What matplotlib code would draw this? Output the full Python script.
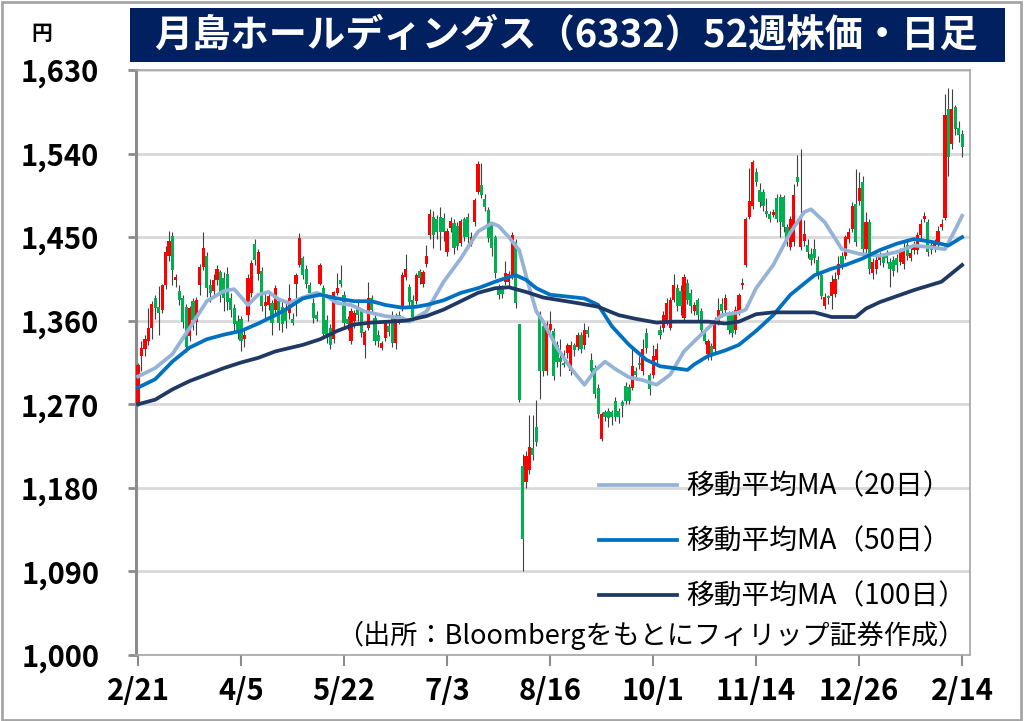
import numpy as np
import matplotlib
matplotlib.use("Agg")
import matplotlib.pyplot as plt
from matplotlib.patches import Rectangle

plt.rcParams['font.family'] = ['Noto Sans CJK JP', 'DejaVu Sans']

# ---- daily candles: open, close, high, low ----
candles = [
    # 2/21 -
    (1271, 1312, 1314, 1268), (1322, 1331, 1338, 1306), (1329, 1340, 1345, 1322), (1338, 1352, 1374, 1334),
    (1352, 1378, 1381, 1340), (1384, 1374, 1388, 1362), (1375, 1368, 1397, 1345), (1372, 1398, 1400, 1368),
    (1398, 1434, 1440, 1394), (1430, 1446, 1457, 1424), (1451, 1415, 1456, 1398), (1404, 1407, 1410, 1396),
    (1392, 1382, 1398, 1377), (1384, 1359, 1388, 1352), (1375, 1332, 1378, 1326), (1343, 1374, 1376, 1338),
    (1381, 1361, 1384, 1350), (1359, 1382, 1385, 1345), (1398, 1418, 1421, 1388), (1418, 1438, 1456, 1415),
    (1430, 1395, 1434, 1385), (1398, 1390, 1405, 1380), (1392, 1404, 1410, 1386), (1404, 1416, 1420, 1398),
    (1412, 1388, 1415, 1380), (1406, 1384, 1412, 1370), (1410, 1380, 1418, 1372), (1384, 1372, 1390, 1364),
    (1374, 1356, 1378, 1348), (1360, 1350, 1366, 1340),
    # 4/5 -
    (1362, 1338, 1365, 1327), (1340, 1345, 1352, 1332),
    (1366, 1406, 1410, 1360), (1390, 1422, 1425, 1385), (1443, 1425, 1448, 1420), (1410, 1434, 1437, 1404),
    (1414, 1376, 1418, 1370), (1376, 1380, 1390, 1362), (1377, 1387, 1392, 1372), (1379, 1357, 1382, 1345),
    (1372, 1395, 1398, 1366), (1381, 1358, 1384, 1350), (1375, 1356, 1382, 1348), (1374, 1360, 1380, 1352),
    (1368, 1384, 1400, 1362), (1362, 1358, 1368, 1355), (1400, 1409, 1411, 1365), (1420, 1449, 1454, 1418),
    (1427, 1409, 1430, 1405), (1416, 1399, 1420, 1395), (1398, 1390, 1402, 1385), (1379, 1363, 1384, 1358),
    (1366, 1362, 1370, 1360), (1400, 1420, 1422, 1398), (1395, 1346, 1398, 1342), (1361, 1341, 1366, 1336),
    (1352, 1334, 1356, 1330), (1340, 1391, 1392, 1336), (1390, 1395, 1411, 1388), (1404, 1399, 1420, 1396),
    # 5/22 -
    (1388, 1357, 1392, 1352), (1362, 1356, 1365, 1350), (1338, 1370, 1374, 1335), (1360, 1368, 1372, 1352),
    (1375, 1366, 1380, 1360), (1370, 1347, 1374, 1342), (1334, 1348, 1350, 1320), (1352, 1384, 1402, 1350),
    (1384, 1372, 1388, 1368), (1363, 1338, 1366, 1334), (1345, 1338, 1350, 1332), (1331, 1336, 1338, 1328),
    (1341, 1357, 1360, 1338), (1354, 1348, 1360, 1344), (1366, 1336, 1370, 1332), (1336, 1365, 1368, 1330),
    (1366, 1362, 1370, 1356), (1374, 1409, 1412, 1370), (1407, 1416, 1432, 1404), (1396, 1380, 1400, 1376),
    (1382, 1364, 1388, 1360), (1381, 1409, 1411, 1378), (1413, 1406, 1416, 1400), (1400, 1412, 1415, 1396),
    (1421, 1430, 1442, 1418), (1452, 1475, 1480, 1448), (1472, 1452, 1478, 1438), (1470, 1456, 1474, 1448),
    (1472, 1456, 1482, 1436), (1471, 1455, 1476, 1446),
    # 7/3 -
    (1434, 1457, 1460, 1430), (1460, 1467, 1472, 1456),
    (1465, 1438, 1470, 1432), (1462, 1440, 1466, 1436), (1444, 1467, 1470, 1440), (1470, 1450, 1472, 1446),
    (1472, 1450, 1476, 1444), (1443, 1450, 1455, 1440), (1466, 1490, 1492, 1462), (1499, 1529, 1532, 1496),
    (1506, 1495, 1530, 1492), (1491, 1482, 1496, 1478), (1479, 1449, 1482, 1445), (1463, 1438, 1466, 1430),
    (1450, 1411, 1452, 1406), (1395, 1388, 1400, 1383), (1394, 1389, 1398, 1384), (1402, 1411, 1424, 1398),
    (1402, 1410, 1414, 1396), (1409, 1452, 1455, 1405), (1445, 1379, 1448, 1374), (1356, 1275, 1356, 1272),
    (1204, 1125, 1216, 1090), (1186, 1214, 1220, 1180), (1199, 1224, 1258, 1195), (1223, 1215, 1258, 1210),
    (1245, 1229, 1275, 1225), (1365, 1306, 1370, 1276), (1354, 1306, 1360, 1300), (1306, 1356, 1360, 1302),
    # 8/16 -
    (1350, 1356, 1370, 1346), (1349, 1300, 1352, 1296), (1334, 1315, 1338, 1310), (1320, 1316, 1340, 1300),
    (1315, 1312, 1328, 1310), (1325, 1334, 1336, 1320), (1306, 1334, 1338, 1302), (1334, 1328, 1336, 1322),
    (1332, 1345, 1348, 1328), (1345, 1329, 1348, 1325), (1334, 1350, 1358, 1330), (1350, 1346, 1354, 1342),
    (1318, 1306, 1325, 1300), (1309, 1281, 1312, 1277), (1288, 1259, 1292, 1255), (1233, 1259, 1262, 1230),
    (1262, 1256, 1264, 1252), (1263, 1255, 1266, 1245), (1262, 1256, 1264, 1248), (1274, 1256, 1278, 1252),
    (1263, 1256, 1266, 1250), (1272, 1268, 1275, 1256), (1290, 1273, 1294, 1270), (1289, 1274, 1292, 1270),
    (1288, 1311, 1330, 1285), (1306, 1302, 1310, 1298), (1315, 1312, 1322, 1308), (1306, 1330, 1340, 1302),
    (1347, 1331, 1352, 1325), (1302, 1286, 1304, 1280),
    # 10/1 -
    (1302, 1322, 1334, 1298), (1318, 1330, 1336, 1314),
    (1350, 1345, 1355, 1340), (1352, 1366, 1370, 1348), (1359, 1379, 1384, 1355), (1352, 1382, 1386, 1350),
    (1382, 1399, 1410, 1380), (1395, 1376, 1400, 1370), (1392, 1376, 1398, 1366), (1363, 1407, 1410, 1360),
    (1401, 1382, 1405, 1378), (1390, 1376, 1394, 1368), (1370, 1377, 1380, 1366), (1382, 1366, 1384, 1360),
    (1370, 1350, 1374, 1345), (1347, 1338, 1350, 1335), (1324, 1338, 1340, 1318), (1333, 1324, 1336, 1318),
    (1329, 1361, 1364, 1326), (1360, 1372, 1384, 1355), (1378, 1370, 1384, 1364), (1372, 1384, 1389, 1368),
    (1366, 1350, 1370, 1346), (1366, 1347, 1370, 1342), (1350, 1372, 1376, 1346), (1370, 1388, 1390, 1366),
    (1398, 1401, 1406, 1394), (1420, 1470, 1472, 1418),
    # 11/14 -
    (1472, 1489, 1524, 1470), (1483, 1531, 1533, 1480),
    (1520, 1509, 1524, 1505), (1501, 1488, 1508, 1482), (1499, 1483, 1502, 1478), (1478, 1475, 1492, 1472),
    (1475, 1470, 1478, 1466), (1474, 1477, 1480, 1472), (1492, 1470, 1496, 1466), (1493, 1466, 1496, 1450),
    (1493, 1461, 1495, 1455), (1461, 1448, 1464, 1440), (1439, 1470, 1473, 1436), (1445, 1495, 1507, 1440),
    (1515, 1509, 1538, 1505), (1439, 1471, 1545, 1436), (1446, 1453, 1468, 1440), (1441, 1434, 1448, 1428),
    (1432, 1425, 1438, 1420), (1437, 1427, 1448, 1422), (1425, 1409, 1430, 1405), (1409, 1387, 1412, 1383),
    (1376, 1385, 1390, 1373), (1386, 1384, 1388, 1378), (1387, 1402, 1409, 1373), (1389, 1405, 1412, 1385),
    (1409, 1421, 1430, 1405), (1430, 1421, 1434, 1416), (1430, 1450, 1452, 1426), (1448, 1455, 1460, 1444),
    # 12/26 -
    (1459, 1484, 1488, 1455), (1486, 1445, 1523, 1440),
    (1489, 1503, 1520, 1485), (1509, 1437, 1516, 1430), (1437, 1466, 1477, 1432), (1466, 1416, 1470, 1410),
    (1411, 1423, 1428, 1405), (1416, 1425, 1432, 1410), (1425, 1430, 1434, 1420), (1430, 1422, 1433, 1418),
    (1432, 1427, 1436, 1422), (1423, 1416, 1428, 1396), (1425, 1414, 1430, 1408), (1428, 1420, 1432, 1412),
    (1423, 1434, 1438, 1420), (1421, 1437, 1445, 1416), (1441, 1430, 1446, 1425), (1428, 1433, 1438, 1424),
    (1436, 1441, 1446, 1432), (1436, 1452, 1456, 1432), (1452, 1464, 1470, 1448), (1470, 1473, 1477, 1466),
    (1466, 1434, 1470, 1430), (1441, 1436, 1446, 1432), (1438, 1444, 1448, 1434), (1441, 1457, 1462, 1437),
    (1461, 1464, 1470, 1458), (1471, 1581, 1604, 1468), (1588, 1536, 1611, 1516), (1550, 1588, 1610, 1545),
    (1590, 1566, 1592, 1560), (1568, 1560, 1575, 1552), (1561, 1547, 1565, 1536),
]
opens = np.array([c[0] for c in candles], dtype=float)
closes = np.array([c[1] for c in candles], dtype=float)
highs = np.array([c[2] for c in candles], dtype=float)
lows = np.array([c[3] for c in candles], dtype=float)

# ---- moving averages (day index, value) ----
ma20_idx = [0, 5, 10, 15, 20, 25, 28, 32, 35, 38, 41, 44, 48, 52, 55, 58, 62, 66, 72, 77, 79, 84, 89, 94,
            99, 103, 105, 108, 111, 114, 116, 118, 122, 126, 130, 133, 136, 139, 143, 147, 151, 155, 159,
            164, 170, 175, 177, 180, 185, 190, 194, 196, 200, 205, 210, 216, 221, 226, 231, 235, 238, 240]
ma20_val = [1300, 1309, 1324, 1352, 1381, 1392, 1394, 1377, 1388, 1391, 1383, 1379, 1385, 1390, 1386, 1379,
            1377, 1370, 1365, 1363, 1359, 1370, 1402, 1427, 1456, 1465, 1462, 1450, 1436, 1395, 1370, 1359,
            1331, 1309, 1291, 1306, 1316, 1308, 1299, 1296, 1291, 1302, 1327, 1345, 1366, 1369, 1372, 1395,
            1420, 1455, 1477, 1480, 1466, 1437, 1432, 1430, 1434, 1441, 1439, 1437, 1458, 1473]

ma50_idx = [0, 5, 10, 15, 20, 25, 30, 35, 40, 43, 48, 53, 58, 63, 68, 72, 77, 81, 84, 89, 94, 99, 104, 108,
            110, 113, 116, 120, 125, 130, 134, 138, 143, 148, 152, 156, 160, 162, 166, 171, 175, 180, 185,
            190, 192, 197, 202, 206, 211, 216, 221, 226, 231, 236, 240]
ma50_val = [1288, 1297, 1316, 1331, 1340, 1345, 1349, 1357, 1366, 1372, 1384, 1388, 1384, 1381, 1381, 1377,
            1374, 1375, 1377, 1382, 1390, 1395, 1402, 1407, 1409, 1404, 1395, 1388, 1386, 1384, 1377, 1354,
            1334, 1318, 1311, 1309, 1307, 1313, 1322, 1328, 1334, 1349, 1366, 1388, 1394, 1409, 1416, 1420,
            1427, 1436, 1443, 1448, 1445, 1441, 1450]

ma100_idx = [0, 5, 10, 15, 20, 25, 30, 35, 40, 48, 53, 58, 63, 68, 73, 78, 84, 89, 94, 99, 104, 108, 113,
             118, 123, 128, 134, 140, 145, 151, 156, 161, 166, 171, 175, 180, 185, 190, 197, 202, 209, 212,
             216, 226, 234, 240]
ma100_val = [1270, 1275, 1286, 1295, 1302, 1309, 1315, 1320, 1327, 1334, 1340, 1349, 1356, 1358, 1359, 1360,
             1365, 1372, 1381, 1390, 1395, 1396, 1391, 1385, 1382, 1379, 1375, 1366, 1362, 1358, 1359, 1359,
             1359, 1357, 1359, 1367, 1369, 1369, 1369, 1364, 1364, 1373, 1380, 1393, 1402, 1420]

tick_pos = [0, 30, 60, 90, 120, 150, 180, 210, 240]
tick_labels = ['2/21', '4/5', '5/22', '7/3', '8/16', '10/1', '11/14', '12/26', '2/14']
y_ticks = [1000, 1090, 1180, 1270, 1360, 1450, 1540, 1630]

title = '月島ホールディングス（6332）52週株価・日足'
source = '（出所：Bloombergをもとにフィリップ証券作成）'
legend_labels = ['移動平均MA（20日）', '移動平均MA（50日）', '移動平均MA（100日）']

UP = '#FF0000'
DOWN = '#00B050'

fig = plt.figure(figsize=(10.24, 7.21), dpi=100)
W, H = 1024, 721
ax = fig.add_axes([136 / W, 1 - 655 / H, (970 - 136) / W, (655 - 70) / H])

x = np.arange(len(candles))
up = closes >= opens
colors = np.where(up, UP, DOWN)

# wicks then bodies
ax.vlines(x, lows, highs, color='#404040', linewidth=0.8, zorder=2)
body_low = np.minimum(opens, closes)
body_h = np.maximum(np.abs(closes - opens), 2.5)
ax.bar(x, body_h, bottom=body_low, width=0.92, color=colors, linewidth=0, zorder=3)

# moving averages
l20, = ax.plot(ma20_idx, ma20_val, color='#95B3D7', linewidth=2.7, zorder=4)
l50, = ax.plot(ma50_idx, ma50_val, color='#0070C0', linewidth=2.7, zorder=4)
l100, = ax.plot(ma100_idx, ma100_val, color='#1F3864', linewidth=2.7, zorder=4)

ax.set_xlim(-0.6, 242.3)
ax.set_ylim(1000, 1630)
ax.set_yticks(y_ticks)
ax.set_yticklabels([f'{v:,}' for v in y_ticks], fontsize=21, fontweight='bold')
ax.set_xticks(tick_pos)
ax.set_xticklabels(tick_labels, fontsize=21, fontweight='bold')
ax.tick_params(axis='y', length=6, width=2, color='#8C8C8C', pad=20.5)
ax.tick_params(axis='x', length=8, width=1.5, color='#8C8C8C', pad=7)
ax.grid(axis='y', color='#D9D9D9', linewidth=2, zorder=0)
ax.set_axisbelow(True)
for side in ['top', 'right', 'bottom']:
    ax.spines[side].set_color('#A6A6A6')
    ax.spines[side].set_linewidth(1.2)
ax.spines['left'].set_color('#8C8C8C')
ax.spines['left'].set_linewidth(2.2)

leg = ax.legend([l20, l50, l100], legend_labels, loc='upper left', bbox_to_anchor=(0.539, 0.337),
                frameon=False, fontsize=20, handlelength=2.8, handletextpad=0.32,
                labelspacing=0.9, borderpad=0)

ax.text(0.995, 0.034, source, transform=ax.transAxes, ha='right', va='center', fontsize=19.5)

# title banner
fig.patches.append(Rectangle((130 / W, 1 - 62 / H), (1005 - 130) / W, 54 / H,
                             transform=fig.transFigure, facecolor='#002060', edgecolor='none'))
fig.text(566 / W, 1 - 36 / H, title, color='white', fontsize=27.5, fontweight='bold',
         ha='center', va='center')
fig.text(42 / W, 1 - 33 / H, '円', fontsize=15, fontweight='bold', ha='center', va='center')

# outer frame
fig.patches.append(Rectangle((0.002, 0.002), 0.995, 0.995, transform=fig.transFigure,
                             facecolor='none', edgecolor='#A6A6A6', linewidth=2))

fig.savefig('out.png', dpi=100)
